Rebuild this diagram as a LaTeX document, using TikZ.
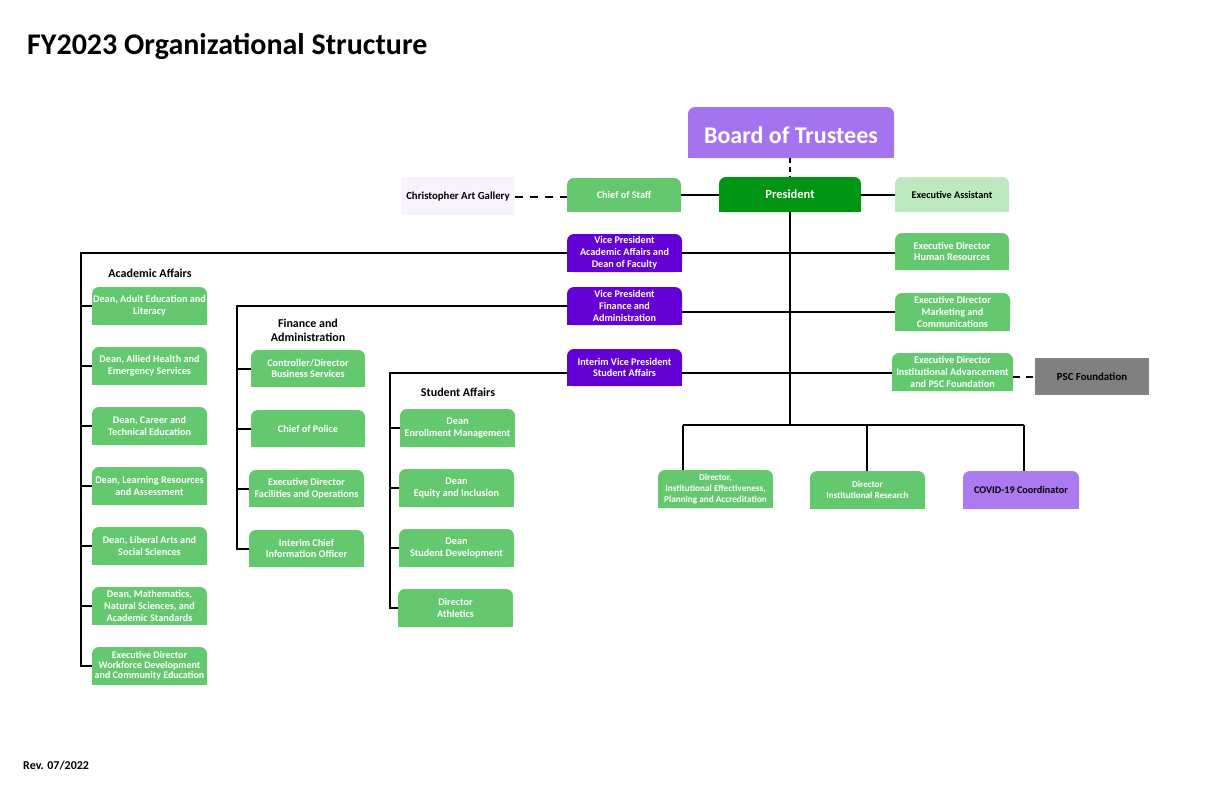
\documentclass[tikz,border=0pt]{standalone}
\usepackage{fontspec}
\setmainfont{Carlito}
\definecolor{lgreen}{RGB}{100,200,111}
\definecolor{dgreen}{RGB}{0,150,20}
\definecolor{vpurple}{RGB}{98,0,214}
\definecolor{bpurple}{RGB}{164,116,240}
\definecolor{cpurple}{RGB}{171,122,238}
\definecolor{mint}{RGB}{189,233,193}
\definecolor{lav}{RGB}{248,242,252}
\definecolor{pgray}{RGB}{128,128,128}
\tikzset{
  boxtext/.style={font=\bfseries\fontsize{10.2}{11.8}\selectfont,align=center,inner sep=0pt},
  conn/.style={line width=2pt,black},
  dconn/.style={line width=2pt,black,dash pattern=on 8pt off 7pt},
  label/.style={font=\bfseries\fontsize{12}{14}\selectfont,align=center,inner sep=0pt},
}
\newcommand{\obox}[8]{%
  \fill[#6,rounded corners=7pt] (#2,#3) rectangle (#4,#5);
  \fill[#6] (#2,{(#3+#5)/2}) rectangle (#4,#5);
  \node[boxtext,minimum width={#4-#2},minimum height={#5-#3},#7] (#1) at ({(#2+#4)/2},{(#3+#5)/2}) {#8};
}
\begin{document}
\begin{tikzpicture}[x=1pt,y=-1pt]
\useasboundingbox (0,0) rectangle (1224,792);
\fill[white] (0,0) rectangle (1224,792);

\node[anchor=west,inner sep=0pt,font=\bfseries\fontsize{30}{34}\selectfont] (title) at (27,46) {FY2023 Organizational Structure};
\node[anchor=west,inner sep=0pt,font=\bfseries\fontsize{12}{14}\selectfont] (rev) at (23,766) {Rev. 07/2022};

% top
\obox{board}{688}{107}{894}{158}{bpurple}{text=white,font=\bfseries\fontsize{24}{28}\selectfont,yshift=-3pt}{Board of Trustees}
\obox{pres}{719}{177}{861}{212}{dgreen}{text=white,font=\bfseries\fontsize{12.5}{14}\selectfont}{President}
\obox{cos}{567}{178}{681}{212}{lgreen}{text=white}{Chief of Staff}
\fill[lav] (401,177) rectangle (515,215);
\node[boxtext,text=black,minimum width=114,minimum height=38,font=\bfseries\fontsize{10.8}{12}\selectfont] (gal) at (458,197) {Christopher Art Gallery};
\obox{ea}{895}{177}{1009}{212}{mint}{text=black}{Executive Assistant}

% VPs
\obox{vpaa}{567}{234}{682}{272}{vpurple}{text=white}{Vice President\\Academic Affairs and\\Dean of Faculty}
\obox{vpfa}{567}{287}{682}{325}{vpurple}{text=white}{Vice President\\Finance and\\Administration}
\obox{vpsa}{567}{349}{682}{386}{vpurple}{text=white}{Interim Vice President\\Student Affairs}

% right column
\obox{hr}{895}{233}{1009}{270}{lgreen}{text=white}{Executive Director\\Human Resources}
\obox{mkt}{895}{293}{1010}{331}{lgreen}{text=white}{Executive Director\\Marketing and\\Communications}
\obox{ia}{892}{353}{1013}{391}{lgreen}{text=white}{Executive Director\\Institutional Advancement\\and PSC Foundation}
\fill[pgray] (1035,358) rectangle (1149,395);
\node[boxtext,text=black,minimum width=114,minimum height=37,font=\bfseries\fontsize{10.8}{12}\selectfont] (psc) at (1092,377) {PSC Foundation};

% bottom row
\obox{ie}{658}{470}{773}{508}{lgreen}{text=white,font=\bfseries\fontsize{9.2}{11}\selectfont}{Director,\\Institutional Effectiveness,\\Planning and Accreditation}
\obox{ir}{810}{471}{925}{509}{lgreen}{text=white,font=\bfseries\fontsize{9.1}{11}\selectfont}{Director\\Institutional Research}
\obox{covid}{963}{471}{1079}{509}{cpurple}{text=black}{COVID-19 Coordinator}

% Academic Affairs
\node[label] (aalab) at (150,273) {Academic Affairs};
\obox{aa1}{92}{287}{207}{325}{lgreen}{text=white}{Dean, Adult Education and\\Literacy}
\obox{aa2}{92}{347}{207}{385}{lgreen}{text=white}{Dean, Allied Health and\\Emergency Services}
\obox{aa3}{92}{407}{207}{445}{lgreen}{text=white}{Dean, Career and\\Technical Education}
\obox{aa4}{92}{467}{207}{505}{lgreen}{text=white}{Dean, Learning Resources\\and Assessment}
\obox{aa5}{92}{527}{207}{565}{lgreen}{text=white}{Dean, Liberal Arts and\\Social Sciences}
\obox{aa6}{92}{587}{207}{625}{lgreen}{text=white}{Dean, Mathematics,\\Natural Sciences, and\\Academic Standards}
\obox{aa7}{92}{647}{207}{685}{lgreen}{text=white,font=\bfseries\fontsize{10}{9.8}\selectfont}{Executive Director\\Workforce Development\\and Community Education}

% Finance and Administration
\node[label] (falab) at (308,330) {Finance and\\Administration};
\obox{fa1}{251}{350}{365}{387}{lgreen}{text=white}{Controller/Director\\Business Services}
\obox{fa2}{251}{410}{365}{447}{lgreen}{text=white}{Chief of Police}
\obox{fa3}{249}{470}{364}{507}{lgreen}{text=white}{Executive Director\\Facilities and Operations}
\obox{fa4}{249}{530}{364}{567}{lgreen}{text=white}{Interim Chief\\Information Officer}

% Student Affairs
\node[label] (salab) at (458,392) {Student Affairs};
\obox{sa1}{400}{409}{515}{447}{lgreen}{text=white}{Dean\\Enrollment Management}
\obox{sa2}{399}{469}{514}{507}{lgreen}{text=white}{Dean\\Equity and Inclusion}
\obox{sa3}{399}{529}{514}{567}{lgreen}{text=white}{Dean\\Student Development}
\obox{sa4}{398}{589}{513}{627}{lgreen}{text=white}{Director\\Athletics}

% helper coordinates
\coordinate (hub) at (790,425);
\coordinate (aax) at (81,0);
\coordinate (fax) at (237,0);
\coordinate (sax) at (390,0);
\coordinate (iex) at (683,0);
\coordinate (irx) at (867,0);
\coordinate (covx) at (1024,0);

% connectors
\draw[line width=2pt,dash pattern=on 5pt off 4pt] (790,158) -- (790,177);
\draw[dconn] (gal.east) -- (cos.west |- gal.east);
\draw[conn] (cos.east) -- (pres.west |- cos.east);
\draw[conn] (pres.east) -- (ea.west |- pres.east);
\draw[conn] (pres.south) -- (pres.south |- hub);
\draw[conn] (iex |- hub) -- (covx |- hub);
\draw[conn] (iex |- hub) -- (iex |- ie.north);
\draw[conn] (irx |- hub) -- (irx |- ir.north);
\draw[conn] (covx |- hub) -- (covx |- covid.north);

\draw[conn] (vpaa.west) -| (aax |- aa7.west) -- (aa7.west);
\foreach \n in {aa1,aa2,aa3,aa4,aa5,aa6} \draw[conn] (\n.west) -- (aax |- \n.west);
\draw[conn] (vpaa.east) -- (hr.west |- vpaa.east);

\draw[conn] (vpfa.west) -| (fax |- fa4.west) -- (fa4.west);
\foreach \n in {fa1,fa2,fa3} \draw[conn] (\n.west) -- (fax |- \n.west);
\draw[conn] (vpfa.east |- mkt.west) -- (mkt.west);

\draw[conn] ([yshift=-5pt]vpsa.west) -| (sax |- sa4.west) -- (sa4.west);
\foreach \n in {sa1,sa2,sa3} \draw[conn] (\n.west) -- (sax |- \n.west);
\draw[conn] ([yshift=-5pt]vpsa.east) -- ([yshift=-5pt]vpsa.east -| ia.west);
\draw[dconn,dash pattern=on 7pt off 6pt] (ia.east |- psc.west) -- (psc.west);
\end{tikzpicture}
\end{document}
